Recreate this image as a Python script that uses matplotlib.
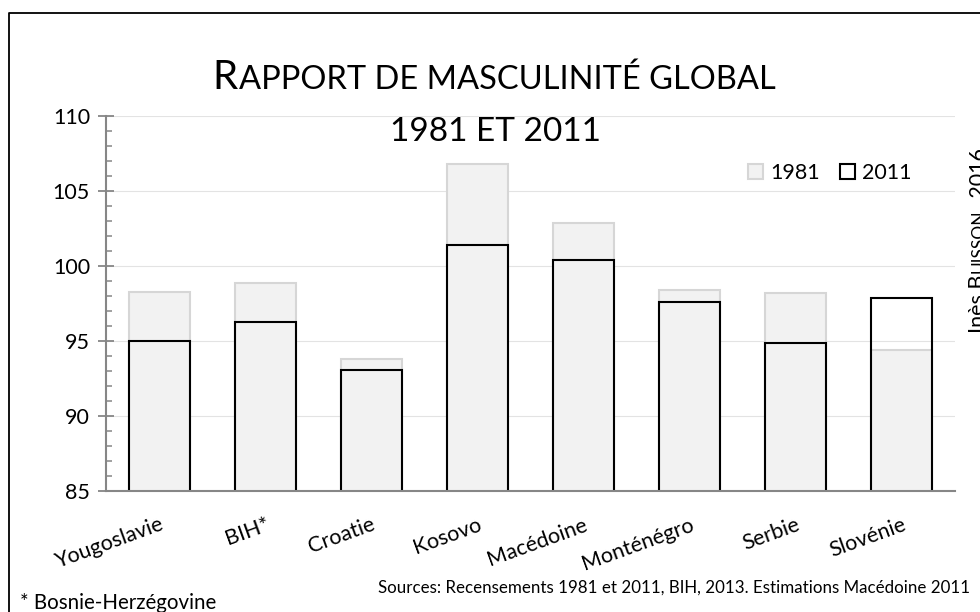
import matplotlib

matplotlib.use("Agg")
import matplotlib.pyplot as plt
from matplotlib.lines import Line2D
from matplotlib.patches import Patch
from matplotlib.ticker import MultipleLocator
import numpy as np

categories = ["Yougoslavie", "BIH*", "Croatie", "Kosovo", "Macédoine",
              "Monténégro", "Serbie", "Slovénie"]
ratio_1981 = [98.3, 98.9, 93.8, 106.8, 102.9, 98.4, 98.2, 94.4]
ratio_2011 = [95.0, 96.3, 93.1, 101.4, 100.4, 97.6, 94.9, 97.9]

W, H = 980, 612
plt.rcParams["font.family"] = ["Lato", "DejaVu Sans"]

fig = plt.figure(figsize=(W / 100, H / 100), dpi=100)
ax = fig.add_axes([106 / W, 1 - 491 / H, (955 - 106) / W, (491 - 116) / H])

x = np.arange(len(categories))
width = 0.575
ax.bar(x, ratio_1981, width, color="#f2f2f2", edgecolor="#d6d6d6",
       linewidth=1.5, zorder=2, label="1981")
ax.bar(x, ratio_2011, width, facecolor="none", edgecolor="black",
       linewidth=1.5, zorder=3, label="2011")

ax.set_xlim(-0.5, len(categories) - 0.5)
ax.set_ylim(85, 110)
ax.yaxis.set_major_locator(MultipleLocator(5))
ax.yaxis.set_minor_locator(MultipleLocator(1))
ax.grid(axis="y", which="major", color="#e3e3e3", linewidth=0.8, zorder=0)
ax.set_axisbelow(True)

for side in ("top", "right"):
    ax.spines[side].set_visible(False)
for side in ("left", "bottom"):
    ax.spines[side].set_color("#868686")
    ax.spines[side].set_linewidth(1.5)
    ax.spines[side].set_zorder(4)

ax.tick_params(axis="y", which="major", direction="inout", length=11,
               width=1.3, color="#868686", labelsize=15.5, pad=6)
ax.tick_params(axis="y", which="minor", direction="in", length=4.5,
               width=1.1, color="#868686")
ax.tick_params(axis="x", length=0, pad=17)
ax.set_xticks(x)
ax.set_xticklabels(categories, rotation=20, ha="right",
                   rotation_mode="anchor", fontsize=15.5)

handles = [Patch(facecolor="#f2f2f2", edgecolor="#d6d6d6", linewidth=1.5),
           Patch(facecolor="white", edgecolor="black", linewidth=1.5)]
fig.legend(handles, ["1981", "2011"], loc="center",
           bbox_to_anchor=(830 / W, 1 - 173 / H), ncol=2, frameon=False,
           fontsize=15.5, handlelength=0.7, handleheight=0.7,
           handletextpad=0.35, columnspacing=0.9, borderpad=0)

renderer = fig.canvas.get_renderer()


def small_caps(parts, x0, y0, rotation=0, center=False):
    # parts: list of (text, size); x0, y0 in pixels from bottom-left
    texts = []
    for s, size in parts:
        t = fig.text(0, 0, s, fontsize=size, rotation=rotation,
                     rotation_mode="anchor", ha="left", va="baseline",
                     transform=None)
        texts.append(t)
    sizes = []
    for t in texts:
        bb = t.get_window_extent(renderer)
        sizes.append(bb.height if rotation else bb.width)
    total = sum(sizes) + 1.5 * (len(sizes) - 1)
    pos = x0 - total / 2 if center else x0
    if rotation:
        pos = y0
    for t, sz in zip(texts, sizes):
        if rotation:
            t.set_position((x0, pos))
        else:
            t.set_position((pos, y0))
        pos += sz + 1.5


small_caps([("R", 29), ("APPORT DE MASCULINITÉ GLOBAL", 23.5)],
           494, H - 89, center=True)
fig.text(495 / W, 1 - 132 / H, "1981 ET 2011", fontsize=24,
         ha="center", va="center")
small_caps([("Inès B", 15.5), ("UISSON", 12.5), (", 2016", 15.5)],
           984, H - 333, rotation=90)

fig.text(970 / W, 1 - 593 / H, "Sources: Recensements 1981 et 2011, BIH, "
         "2013. Estimations Macédoine 2011", fontsize=12.2, ha="right",
         va="baseline")
fig.text(20 / W, 1 - 609 / H, "* Bosnie-Herzégovine", fontsize=14.8,
         ha="left", va="baseline")

# outer frame (right and bottom edges fall outside the picture)
fig.add_artist(Line2D([8.5 / W, 8.5 / W, 1.1], [-0.1, 1 - 13 / H, 1 - 13 / H],
                      transform=fig.transFigure, color="black", linewidth=1.3))

fig.savefig("out.png", dpi=100)
